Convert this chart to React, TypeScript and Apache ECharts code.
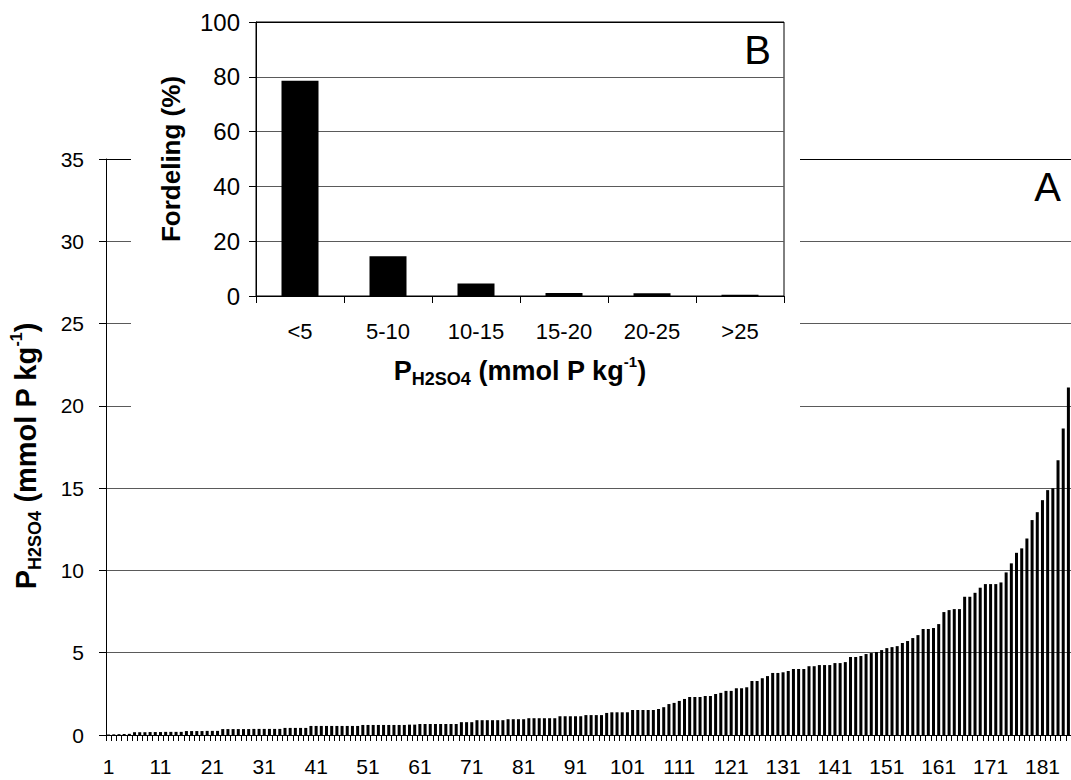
import { useEffect, useRef } from "react";
import * as echarts from "echarts";

// Panel A: sorted P(H2SO4) values for each sample (mmol P kg-1)
const sampleValues: number[] = [
  0.03, 0.04, 0.05, 0.06, 0.07, 0.17, 0.17, 0.17, 0.18, 0.18,
  0.18, 0.19, 0.19, 0.19, 0.19, 0.24, 0.24, 0.24, 0.24, 0.25,
  0.25, 0.25, 0.36, 0.36, 0.36, 0.36, 0.36, 0.36, 0.37, 0.37,
  0.37, 0.37, 0.37, 0.37, 0.43, 0.43, 0.43, 0.43, 0.43, 0.55,
  0.55, 0.55, 0.55, 0.55, 0.55, 0.55, 0.55, 0.55, 0.55, 0.61,
  0.61, 0.61, 0.61, 0.61, 0.61, 0.61, 0.61, 0.61, 0.63, 0.63,
  0.67, 0.67, 0.67, 0.67, 0.67, 0.67, 0.67, 0.67, 0.78, 0.78,
  0.78, 0.90, 0.90, 0.90, 0.90, 0.90, 0.90, 0.96, 0.96, 0.96,
  0.96, 1.02, 1.02, 1.02, 1.02, 1.02, 1.02, 1.14, 1.14, 1.14,
  1.14, 1.14, 1.21, 1.21, 1.21, 1.21, 1.34, 1.38, 1.38, 1.38,
  1.38, 1.52, 1.52, 1.52, 1.52, 1.52, 1.58, 1.69, 1.88, 1.95,
  2.07, 2.19, 2.31, 2.31, 2.31, 2.37, 2.37, 2.49, 2.56, 2.68,
  2.68, 2.84, 2.84, 2.90, 3.28, 3.28, 3.45, 3.58, 3.77, 3.77,
  3.81, 3.89, 4.01, 4.01, 4.01, 4.18, 4.18, 4.25, 4.25, 4.25,
  4.37, 4.37, 4.43, 4.74, 4.74, 4.80, 4.92, 4.98, 5.04, 5.16,
  5.28, 5.34, 5.40, 5.59, 5.71, 5.89, 6.07, 6.44, 6.44, 6.50,
  6.74, 7.47, 7.59, 7.65, 7.65, 8.40, 8.40, 8.64, 8.95, 9.17,
  9.17, 9.17, 9.27, 9.88, 10.43, 11.07, 11.34, 11.94, 13.06, 13.54,
  14.27, 14.88, 14.99, 16.70, 18.62, 21.11,
];
// sample numbers 1..n used as category labels
const sampleLabels: string[] = sampleValues.map((_, i) => String(i + 1));

// Panel A y-axis
const mainYMin = 0;
const mainYMax = 35;
const mainYStep = 5;

// Panel B: distribution (%) over P(H2SO4) classes
const classLabels: string[] = ["<5", "5-10", "10-15", "15-20", "20-25", ">25"];
const classShares: number[] = [78.6, 14.5, 4.6, 1.1, 1.0, 0.5];
const insetYMin = 0;
const insetYMax = 100;
const insetYStep = 20;

const FF = '"Liberation Sans", Arial, Helvetica, sans-serif';

const titleRich = (big: number, small: number, sup: number, line: number) => ({
  b: { fontSize: big, fontWeight: "bold", fontFamily: FF, color: "#000", lineHeight: line },
  sub: { fontSize: small, fontWeight: "bold", fontFamily: FF, color: "#000", verticalAlign: "bottom", lineHeight: line - 10 },
  sup: { fontSize: sup, fontWeight: "bold", fontFamily: FF, color: "#000", verticalAlign: "top", lineHeight: line - 12 },
});
const titleText = "{b|P}{sub|H2SO4}{b| (mmol P kg}{sup|-1}{b|)}";

export default function App() {
  const ref = useRef<HTMLDivElement>(null);

  useEffect(() => {
    if (!ref.current) return;
    const chart = echarts.init(ref.current, null, { renderer: "svg" });
    const gridGrey = "#5a5a5a";
    chart.setOption({
      animation: false,
      backgroundColor: "#fff",
      textStyle: { fontFamily: FF, color: "#000" },
      grid: [
        { left: 102, top: 159, width: 969, height: 576 },
        {
          left: 256, top: 22, width: 528, height: 274,
          show: true, borderColor: "#000", borderWidth: 1, backgroundColor: "transparent", z: 10,
        },
      ],
      xAxis: [
        {
          type: "category", gridIndex: 0, data: sampleLabels, boundaryGap: true,
          axisLine: { lineStyle: { color: "#000", width: 1 } },
          axisTick: { show: true, interval: 0, length: 6, lineStyle: { color: "#000", width: 1 } },
          axisLabel: { interval: 9, color: "#000", fontSize: 21, margin: 21, fontFamily: FF },
          splitLine: { show: false },
        },
        {
          type: "category", gridIndex: 1, data: classLabels, boundaryGap: true, z: 10,
          axisLine: { lineStyle: { color: "#000", width: 1 } },
          axisTick: { show: true, interval: 0, length: 7, lineStyle: { color: "#000", width: 1 } },
          axisLabel: { interval: 0, color: "#000", fontSize: 22, margin: 24, fontFamily: FF },
          splitLine: { show: false },
          name: titleText, nameLocation: "middle", nameGap: 58,
          nameTextStyle: { rich: titleRich(27, 18, 15, 34) },
        },
      ],
      yAxis: [
        {
          type: "value", gridIndex: 0, min: mainYMin, max: mainYMax, interval: mainYStep,
          axisLine: { show: true, lineStyle: { color: "#000", width: 1 } },
          axisTick: { show: true, length: 7, lineStyle: { color: "#000" } },
          axisLabel: { color: "#000", fontSize: 21, margin: 22, fontFamily: FF },
          splitLine: { show: true, lineStyle: { color: [gridGrey, gridGrey, gridGrey, gridGrey, gridGrey, gridGrey, gridGrey, "#000"], width: 1 } },
          name: titleText, nameLocation: "middle", nameRotate: 90, nameGap: 62,
          nameTextStyle: { rich: titleRich(29, 18, 16, 36), padding: [0, 18, 0, 0] },
        },
        {
          type: "value", gridIndex: 1, min: insetYMin, max: insetYMax, interval: insetYStep, z: 10,
          axisLine: { show: true, lineStyle: { color: "#000", width: 1 } },
          axisTick: { show: true, length: 7, lineStyle: { color: "#000" } },
          axisLabel: { color: "#000", fontSize: 24, margin: 16, fontFamily: FF },
          splitLine: { show: true, lineStyle: { color: ["#000", gridGrey, gridGrey, gridGrey, gridGrey, "#000"], width: 1 } },
          name: "Fordeling (%)", nameLocation: "middle", nameRotate: 90, nameGap: 72,
          nameTextStyle: { fontSize: 26, fontWeight: "bold", color: "#000", fontFamily: FF },
        },
      ],
      series: [
        {
          type: "bar", xAxisIndex: 0, yAxisIndex: 0, data: sampleValues,
          barWidth: "58%", itemStyle: { color: "#000" }, z: 2, silent: true,
        },
        {
          type: "bar", xAxisIndex: 1, yAxisIndex: 1, data: classShares,
          barWidth: 37, itemStyle: { color: "#000" }, z: 10, silent: true,
        },
      ],
      graphic: [
        {
          type: "rect", z: 5, silent: true,
          shape: { x: 131, y: 0, width: 669, height: 428 },
          style: { fill: "#fff" },
        },
        {
          type: "text", z: 20, silent: true, x: 1061, y: 187,
          style: { text: "A", fontSize: 40, fontFamily: FF, fill: "#000", align: "right", verticalAlign: "middle" },
        },
        {
          type: "text", z: 20, silent: true, x: 771, y: 50,
          style: { text: "B", fontSize: 40, fontFamily: FF, fill: "#000", align: "right", verticalAlign: "middle" },
        },
      ],
    });
    return () => chart.dispose();
  }, []);

  return (
    <div
      ref={ref}
      style={{ position: "absolute", left: 0, top: 0, width: 1071, height: 780, background: "#fff" }}
    />
  );
}
